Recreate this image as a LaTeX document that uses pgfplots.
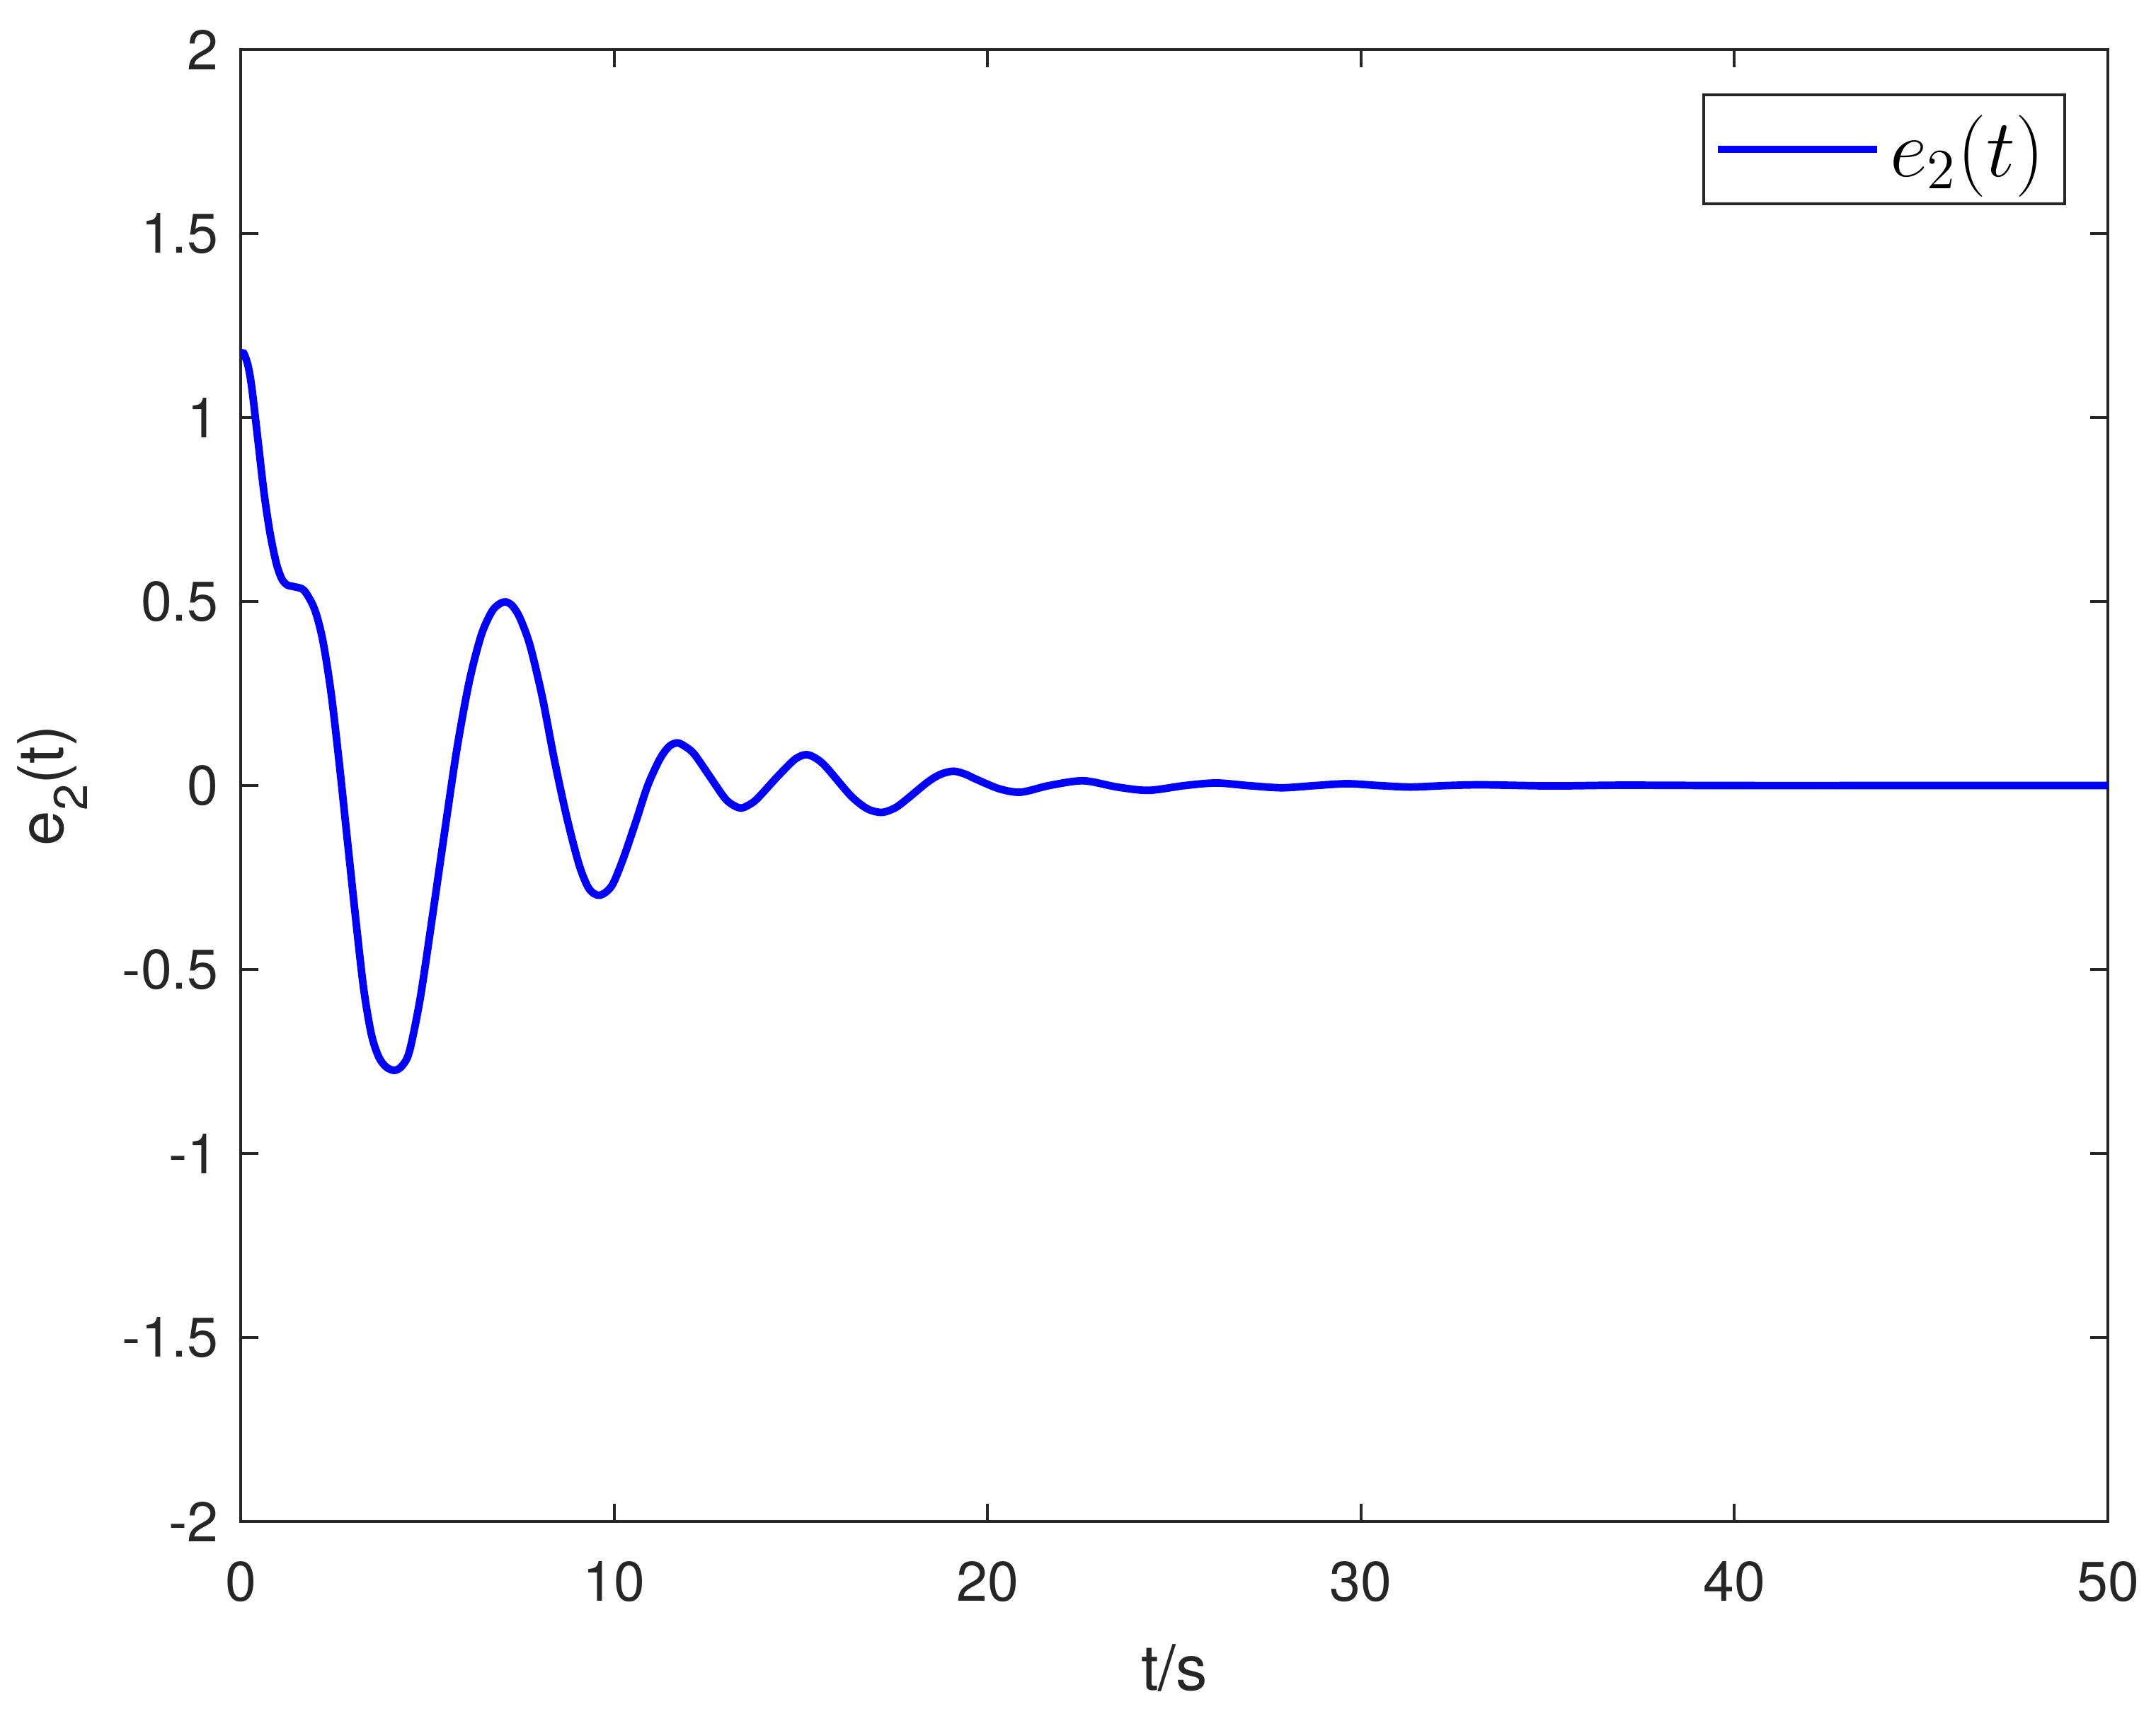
\documentclass[border=0pt]{standalone}
\usepackage{pgfplots}
\pgfplotsset{compat=1.18}
\usepackage{fontspec}
\setmainfont{TeX Gyre Heros}
\definecolor{axgray}{gray}{0.15}
\begin{document}
\begin{tikzpicture}
\begin{axis}[
  scale only axis,
  width=13.857cm, height=10.926cm,
  xmin=0, xmax=50, ymin=-2, ymax=2,
  xtick={0,10,20,30,40,50},
  xticklabels={0,10,20,30,40,50},
  ytick={-2,-1.5,-1,-0.5,0,0.5,1,1.5,2},
  yticklabels={-2,-1.5,-1,-0.5,0,0.5,1,1.5,2},
  tick align=inside,
  tick pos=both,
  major tick length=0.13cm,
  axis line style={axgray, line width=0.6pt},
  every tick/.style={axgray, line width=0.6pt},
  tick label style={font=\fontsize{11.8}{14}\selectfont, text=axgray},
  xticklabel style={yshift=-0.17cm},
  yticklabel style={xshift=-0.04cm},
  /pgf/number format/assume math mode=true,
  xlabel={t/s},
  ylabel={e\raisebox{-5pt}{\fontsize{10}{12}\selectfont 2}(t)},
  label style={font=\fontsize{13.3}{16}\selectfont, text=axgray},
  xlabel style={at={(axis description cs:0.5,-0.1144)}, anchor=base},
  ylabel style={at={(axis description cs:-0.0948,0.5)}, anchor=base},
  legend style={at={(1,1)}, anchor=north east, xshift=-0.31cm, yshift=-0.325cm,
    draw=axgray, line width=0.6pt, font=\fontsize{17}{20}\selectfont,
    inner xsep=0.08cm, inner ysep=0.08cm},
  legend image code/.code={\draw[#1, line width=1.6pt] (0cm,0cm) -- (1.18cm,0cm);},
  legend cell align=left,
]
\addplot[blue, line width=1.6pt, smooth] coordinates {
(0.00,1.168)
(0.08,1.175)
(0.20,1.140)
(0.30,1.080)
(0.45,0.950)
(0.62,0.800)
(0.78,0.690)
(0.95,0.606)
(1.10,0.562)
(1.25,0.545)
(1.45,0.540)
(1.70,0.530)
(1.98,0.479)
(2.20,0.394)
(2.42,0.253)
(2.63,0.070)
(2.85,-0.141)
(3.07,-0.352)
(3.29,-0.549)
(3.50,-0.676)
(3.70,-0.738)
(3.90,-0.765)
(4.12,-0.774)
(4.32,-0.762)
(4.52,-0.722)
(4.81,-0.577)
(5.14,-0.352)
(5.46,-0.127)
(5.79,0.099)
(6.12,0.282)
(6.44,0.408)
(6.72,0.472)
(6.92,0.493)
(7.10,0.499)
(7.28,0.488)
(7.48,0.455)
(7.75,0.380)
(8.08,0.239)
(8.40,0.070)
(8.73,-0.085)
(9.05,-0.211)
(9.28,-0.272)
(9.45,-0.293)
(9.62,-0.298)
(9.80,-0.288)
(9.98,-0.265)
(10.25,-0.197)
(10.58,-0.099)
(10.90,0.000)
(11.23,0.073)
(11.48,0.107)
(11.70,0.116)
(11.92,0.105)
(12.15,0.085)
(12.54,0.028)
(12.97,-0.035)
(13.22,-0.055)
(13.41,-0.061)
(13.62,-0.052)
(13.84,-0.035)
(14.40,0.027)
(14.85,0.072)
(15.15,0.084)
(15.42,0.073)
(15.69,0.049)
(16.34,-0.028)
(16.78,-0.063)
(17.16,-0.073)
(17.50,-0.062)
(17.78,-0.042)
(18.39,0.009)
(18.75,0.031)
(19.09,0.039)
(19.40,0.031)
(19.72,0.016)
(20.32,-0.009)
(20.89,-0.018)
(21.65,0.000)
(22.56,0.013)
(23.47,-0.004)
(24.31,-0.013)
(25.28,0.000)
(26.12,0.007)
(26.97,0.000)
(27.88,-0.006)
(28.78,0.000)
(29.63,0.005)
(30.48,0.000)
(31.32,-0.004)
(32.29,0.000)
(33.26,0.002)
(35.10,-0.001)
(37.00,0.001)
(40.00,0.000)
(45.00,0.000)
(50.00,0.000)
};
\addlegendentry{$e_2(t)$}
\end{axis}
\pgfresetboundingbox
\path[use as bounding box] ([shift={(-1.786cm,-1.387cm)}]current axis.south west) rectangle ([shift={(0.357cm,0.368cm)}]current axis.north east);
\end{tikzpicture}
\end{document}
